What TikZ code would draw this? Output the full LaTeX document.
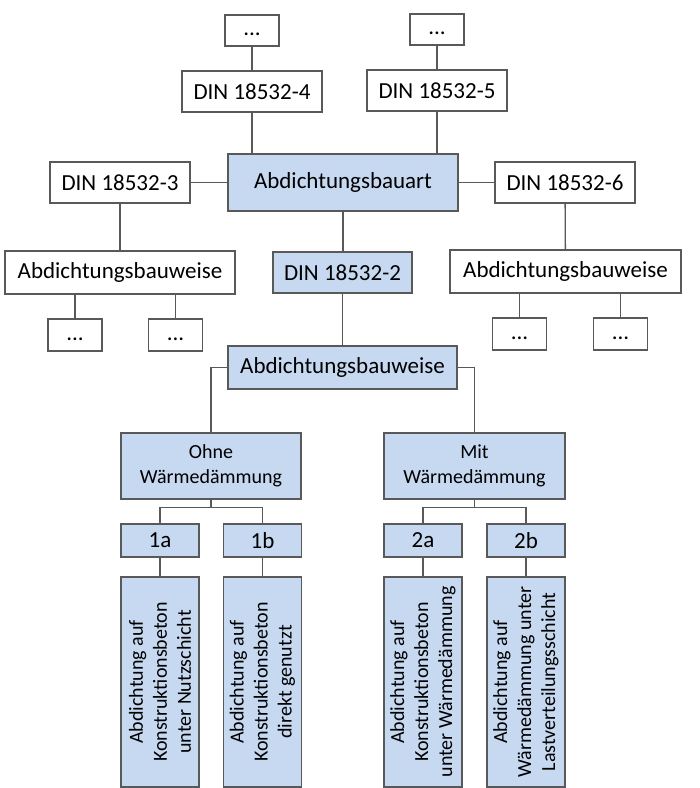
\documentclass[tikz,border=0pt]{standalone}
\usepackage{fontspec}
\setmainfont{Carlito}
\definecolor{boxblue}{HTML}{C6D9F1}
\definecolor{linegray}{HTML}{595959}
\tikzset{
  base/.style={draw=linegray, line width=1.3pt, inner sep=0pt, align=center, text=black},
  wbox/.style={base, fill=white, font=\fontsize{23}{27}\selectfont},
  dbox/.style={wbox, minimum width=54pt, minimum height=31pt, text height=15pt, text depth=5pt},
  bbox/.style={base, fill=boxblue, font=\fontsize{23}{27}\selectfont},
  sbox/.style={base, fill=boxblue, font=\fontsize{20}{25}\selectfont},
  tbox/.style={draw=linegray, line width=1.3pt, fill=boxblue, minimum width=78pt, minimum height=210pt},
  conn/.style={draw=linegray, line width=1.3pt}
}
\begin{document}
\begin{tikzpicture}[x=1pt,y=-1pt]
\useasboundingbox (0,0) rectangle (700,788);
% top dots
\node[dbox] (t1) at (252,30.5) {...};
\node[dbox] (t2) at (437,29.5) {...};
\node[wbox, minimum width=140pt, minimum height=41pt] (din4) at (252,91.5) {DIN 18532-4};
\node[wbox, minimum width=140pt, minimum height=41pt] (din5) at (437,90.5) {DIN 18532-5};
\node[bbox, minimum width=230pt, minimum height=57pt] (bauart) at (343,182.5) {Abdichtungsbauart};
\node[wbox, minimum width=140pt, minimum height=41pt] (din3) at (120,182.5) {DIN 18532-3};
\node[wbox, minimum width=140pt, minimum height=41pt] (din6) at (565,182.5) {DIN 18532-6};
\node[wbox, minimum width=230pt, minimum height=43pt] (bwL) at (120,272.5) {Abdichtungsbauweise};
\node[bbox, minimum width=139pt, minimum height=41pt] (din2) at (342.5,272.5) {DIN 18532-2};
\node[wbox, minimum width=231pt, minimum height=43pt] (bwR) at (565.5,271.5) {Abdichtungsbauweise};
\node[dbox, minimum height=32pt] (dL1) at (75,335) {...};
\node[dbox, minimum height=32pt] (dL2) at (175.5,335) {...};
\node[dbox, minimum height=32pt] (dR1) at (519.5,334) {...};
\node[dbox, minimum height=32pt] (dR2) at (620.5,334) {...};
\node[bbox, minimum width=229pt, minimum height=43pt] (bwC) at (342.5,367.5) {Abdichtungsbauweise};
\node[sbox, minimum width=180pt, minimum height=66pt] (ohne) at (211,466) {Ohne\\Wärmedämmung};
\node[sbox, minimum width=181pt, minimum height=66pt] (mit) at (474.5,466) {Mit\\Wärmedämmung};
\node[bbox, minimum width=78pt, minimum height=33pt] (v1a) at (160,540.5) {1a};
\node[bbox, minimum width=78pt, minimum height=33pt] (v1b) at (262.5,540.5) {1b};
\node[bbox, minimum width=78pt, minimum height=33pt] (v2a) at (423,540.5) {2a};
\node[bbox, minimum width=78pt, minimum height=33pt] (v2b) at (526,540.5) {2b};
\node[tbox] (l1a) at (160,682) {};
\node[tbox] (l1b) at (262.5,682) {};
\node[tbox] (l2a) at (423,682) {};
\node[tbox] (l2b) at (526,682) {};
\foreach \n/\t in {l1a/{Abdichtung auf\\Konstruktionsbeton\\unter Nutzschicht},
                   l1b/{Abdichtung auf\\Konstruktionsbeton\\direkt genutzt},
                   l2a/{Abdichtung auf\\Konstruktionsbeton\\unter Wärmedämmung},
                   l2b/{Abdichtung auf\\Wärmedämmung unter\\Lastverteilungsschicht}}
  \node[rotate=90, align=center, font=\fontsize{20}{24}\selectfont, inner sep=0pt] at (\n.center) {\t};
% connectors
\draw[conn] (t1) -- (din4);
\draw[conn] (t2) -- (din5);
\draw[conn] (din4.south) -- (din4.south |- bauart.north);
\draw[conn] (din5.south) -- (din5.south |- bauart.north);
\draw[conn] (din3.east) -- (bauart.west);
\draw[conn] (bauart.east) -- (din6.west);
\draw[conn] (din3) -- (bwL);
\draw[conn] (din6) -- (bwR);
\draw[conn] (dL1.north |- bwL.south) -- (dL1.north);
\draw[conn] (dL2.north |- bwL.south) -- (dL2.north);
\draw[conn] (dR1.north |- bwR.south) -- (dR1.north);
\draw[conn] (dR2.north |- bwR.south) -- (dR2.north);
\draw[conn] (bauart.south) -- (bauart.south |- din2.north);
\draw[conn] (din2.south) -- (din2.south |- bwC.north);
\draw[conn] (bwC.west) -| (ohne.north);
\draw[conn] (bwC.east) -| (mit.north);
\coordinate (jo) at ([yshift=-8pt]ohne.south);
\coordinate (jm) at ([yshift=-8pt]mit.south);
\draw[conn] (ohne.south) -- (jo);
\draw[conn] (v1a.north) |- (jo) -| (v1b.north);
\draw[conn] (mit.south) -- (jm);
\draw[conn] (v2a.north) |- (jm) -| (v2b.north);
\draw[conn] (v1a) -- (l1a);
\draw[conn] (v1b) -- (l1b);
\draw[conn] (v2a) -- (l2a);
\draw[conn] (v2b) -- (l2b);
\end{tikzpicture}
\end{document}
